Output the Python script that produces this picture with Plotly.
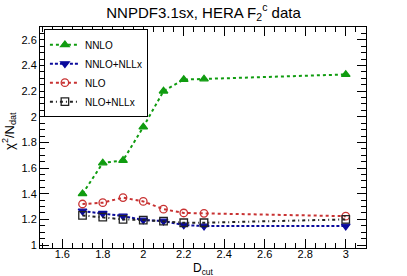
import plotly.graph_objects as go

dcut = [1.7, 1.8, 1.9, 2.0, 2.1, 2.2, 2.3, 3.0]
nnlo = [1.40, 1.64, 1.66, 1.92, 2.20, 2.29, 2.295, 2.33]
nnlo_nllx = [1.265, 1.247, 1.226, 1.195, 1.187, 1.156, 1.148, 1.148]
nlo = [1.32, 1.33, 1.37, 1.34, 1.28, 1.25, 1.247, 1.225]
nlo_nllx = [1.231, 1.218, 1.20, 1.195, 1.187, 1.174, 1.174, 1.20]

series = [
    ("NNLO", nnlo, "#109c10", "dot", "triangle-up"),
    ("NNLO+NLLx", nnlo_nllx, "#0a0a9c", "3px,2px", "triangle-down"),
    ("NLO", nlo, "#c83232", "dot", "circle-open"),
    ("NLO+NLLx", nlo_nllx, "#222222", "3px,3px,1px,3px", "square-open"),
]

fig = go.Figure()
for name, vals, col, dash, sym in series:
    fig.add_trace(go.Scatter(
        x=dcut, y=vals, name=name, mode="lines+markers",
        line=dict(color=col, width=2, dash=dash),
        marker=dict(symbol=sym, size=7.5, color=col, line=dict(color=col, width=1.3)),
    ))

font = "Liberation Sans, Arial, sans-serif"
fig.update_layout(
    width=407, height=276,
    margin=dict(l=40, r=41, t=27, b=28, autoexpand=False),
    paper_bgcolor="white", plot_bgcolor="white",
    font=dict(family=font, size=11, color="black"),
    title=dict(text="NNPDF3.1sx, HERA F<sub>2</sub><sup>c</sup> data", x=0.5, xanchor="center",
               y=0.955, yanchor="middle", font=dict(size=15)),
    showlegend=True,
    legend=dict(x=0.012, y=0.99, xanchor="left", yanchor="top",
                bgcolor="white", bordercolor="black", borderwidth=1,
                font=dict(size=10), tracegroupgap=0, itemwidth=30),
    xaxis=dict(range=[1.49, 3.1], showgrid=False, zeroline=False, automargin=False,
               showline=True, linecolor="black", linewidth=1, mirror="ticks",
               ticks="inside", ticklen=9, tickcolor="black", dtick=0.2, tick0=1.6,
               minor=dict(ticks="inside", ticklen=5, dtick=0.05, tick0=1.5, tickcolor="black"),
               tickfont=dict(size=11), ticklabelstandoff=-4),
    yaxis=dict(range=[0.977, 2.70], showgrid=False, zeroline=False, automargin=False,
               showline=True, linecolor="black", linewidth=1, mirror="ticks",
               ticks="inside", ticklen=9, tickcolor="black", dtick=0.2, tick0=1.0,
               minor=dict(ticks="inside", ticklen=5, dtick=0.05, tick0=1.0, tickcolor="black"),
               tickfont=dict(size=11)),
    annotations=[
        dict(text="D<sub>cut</sub>", xref="paper", yref="paper", x=0.5, y=-0.048,
             xanchor="center", yanchor="top", showarrow=False, font=dict(size=12)),
        dict(text="χ<sup>2</sup>/N<sub>dat</sub>", xref="paper", yref="paper", x=-0.095, y=0.53,
             xanchor="center", yanchor="middle", showarrow=False, textangle=-90,
             font=dict(size=13)),
    ],
)
fig.write_html("out.html", config={"displayModeBar": False},
               post_script="document.body.style.margin='0';")
